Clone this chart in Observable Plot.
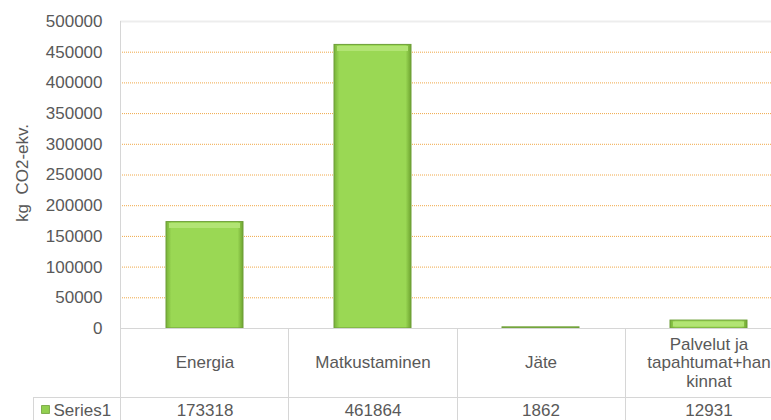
<!DOCTYPE html>
<html><head><meta charset="utf-8">
<script src="https://cdn.jsdelivr.net/npm/d3@7"></script>
<script src="https://cdn.jsdelivr.net/npm/@observablehq/plot@0.6"></script>
<style>
body{margin:0;background:#fff;}
svg{font-family:"Liberation Sans",Arial,sans-serif;}
</style>
</head><body><div id="chart"></div>
<script>
const categories = ["Energia", "Matkustaminen", "Jäte", "Palvelut ja tapahtumat+hankinnat"];
const categoryLabels = ["Energia", "Matkustaminen", "Jäte", "Palvelut ja\ntapahtumat+han\nkinnat"];
const values = [173318, 461864, 1862, 12931];
const yTicks = [0, 50000, 100000, 150000, 200000, 250000, 300000, 350000, 400000, 450000, 500000];
const gridValues = [50000, 100000, 150000, 200000, 250000, 300000, 350000, 400000, 450000];
const seriesName = "Series1";
const yLabel = "kg  CO2-ekv.";

(function () {
const W = 771, H = 420;
const padL = 120, padR = 793, padT = 21, base = 328, tableMid = 397;
const data = categories.map((c, i) => ({category: c, value: values[i], label: categoryLabels[i]}));
const font = "'Liberation Sans', Arial, sans-serif";
const textColor = "#595959";
const fs = 17;

const chart = Plot.plot({
  width: W, height: H,
  marginLeft: padL, marginRight: 0, marginTop: padT, marginBottom: H - base,
  style: {fontFamily: font, fontSize: fs + "px", color: textColor, background: "#fff", overflow: "hidden"},
  x: {domain: categories, range: [padL, padR], paddingInner: 0.54, paddingOuter: 0.27, axis: null},
  y: {domain: [0, 500000], ticks: yTicks, tickFormat: d => String(d), label: null, tickSize: 0, tickPadding: 18},
  marks: [
    Plot.ruleY([500000], {stroke: "#ededed", strokeWidth: 2}),
    Plot.ruleY(gridValues, {stroke: "#f0a848", strokeDasharray: "1,1", strokeWidth: 1}),
    Plot.barY(data, {x: "category", y: "value", fill: "url(#barGrad)", stroke: "#6e9e38", strokeWidth: 1}),
    Plot.tickY(data.filter(d => d.value > 10000), {x: "category", y: "value", stroke: "#b2e474", strokeWidth: 5, dy: 3.5, inset: 3}),
    Plot.text(data, {x: "category", text: "label", frameAnchor: "bottom", lineAnchor: "middle", dy: 34, lineHeight: 1.09, fill: textColor, fontSize: fs}),
    Plot.text(data, {x: "category", text: d => String(d.value), frameAnchor: "bottom", lineAnchor: "middle", dy: 82, fill: textColor, fontSize: fs}),
    Plot.text([seriesName], {frameAnchor: "bottom-left", lineAnchor: "middle", dx: -67, dy: 82, textAnchor: "start", fill: textColor, fontSize: fs}),
    Plot.dot([seriesName], {frameAnchor: "bottom-left", dx: -75, dy: 81, symbol: "square", r: 4.5, fill: "#92d050", stroke: "#6e9e38", strokeWidth: 0.8}),
    Plot.text([yLabel], {frameAnchor: "left", textAnchor: "middle", lineAnchor: "middle", dx: -98, dy: -2, rotate: -90, fill: textColor, fontSize: fs})
  ]
});

const svg = d3.select(chart);
svg.insert("defs", ":first-child").html(`
  <linearGradient id="barGrad" x1="0" x2="1" y1="0" y2="0">
    <stop offset="0" stop-color="#78b238"/>
    <stop offset="0.07" stop-color="#9ad854"/>
    <stop offset="0.93" stop-color="#9ad854"/>
    <stop offset="1" stop-color="#6ea430"/>
  </linearGradient>`);

const cell = d3.scaleBand(categories, [padL, padR]);
const g = svg.append("g").attr("stroke", "#d6d6d6").attr("stroke-width", 1).attr("fill", "none");
g.append("line").attr("x1", padL).attr("x2", W).attr("y1", base + 0.5).attr("y2", base + 0.5);
g.append("line").attr("x1", 33).attr("x2", W).attr("y1", tableMid + 0.5).attr("y2", tableMid + 0.5);
g.append("line").attr("x1", padL + 0.5).attr("x2", padL + 0.5).attr("y1", padT).attr("y2", H);
g.append("line").attr("x1", 33.5).attr("x2", 33.5).attr("y1", tableMid).attr("y2", H);
categories.slice(1).forEach(c => {
  const x = Math.round(cell(c)) + 0.5;
  g.append("line").attr("x1", x).attr("x2", x).attr("y1", base).attr("y2", H);
});

document.getElementById("chart").appendChild(chart);
})();
</script>
</body></html>
